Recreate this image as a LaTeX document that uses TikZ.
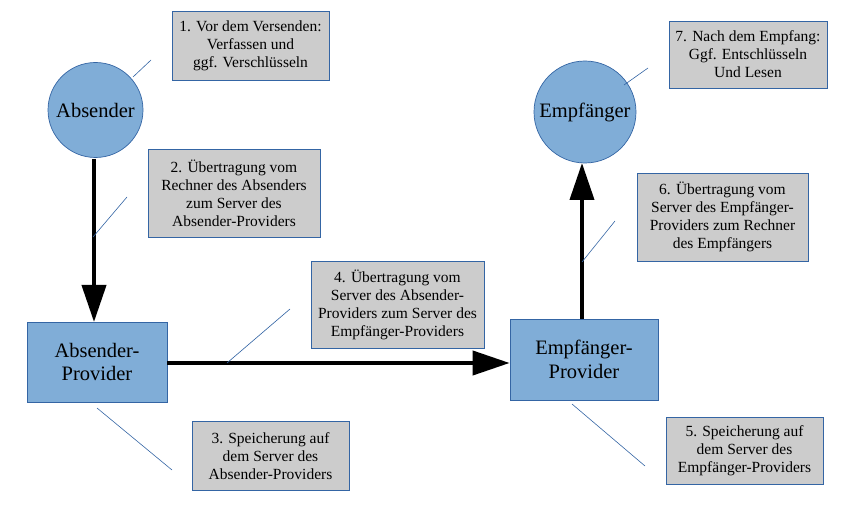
\documentclass[tikz,border=0pt]{standalone}
\usepackage{fontspec}
\setmainfont{Liberation Serif}
\usetikzlibrary{arrows.meta}
\definecolor{nodeblue}{RGB}{128,173,215}
\definecolor{edgeblue}{RGB}{52,101,164}
\definecolor{notegray}{RGB}{204,204,204}
\tikzset{
  party/.style={circle,draw=edgeblue,line width=0.7pt,fill=nodeblue,inner sep=0pt,font=\fontsize{20.5}{23}\selectfont},
  provider/.style={rectangle,draw=edgeblue,line width=0.7pt,fill=nodeblue,inner sep=0pt,align=center,font=\fontsize{20.5}{23.5}\selectfont},
  note/.style={rectangle,draw=edgeblue,line width=0.7pt,fill=notegray,inner sep=0pt,align=center,font=\fontsize{15.5}{18}\selectfont},
  flow/.style={line width=4pt,-{Triangle[length=37pt,width=24pt]}},
  callout/.style={draw=edgeblue,line width=0.6pt}
}
\begin{document}
\begin{tikzpicture}[x=1pt,y=-1pt]
\useasboundingbox (0,0) rectangle (844,505);
% main nodes
\node[party,minimum size=95pt] (abs) at (95.5,110) {Absender};
\node[party,minimum size=102pt] (emp) at (585,112) {Empfänger};
\node[provider,minimum width=140pt,minimum height=80pt] (absprov) at (97,362) {Absender-\\Provider};
\node[provider,minimum width=148pt,minimum height=81pt] (empprov) at (584,359.5) {Empfänger-\\Provider};
% notes
\node[note,minimum width=157pt,minimum height=69pt] (n1) at (250.5,45.5) {1. Vor dem Versenden:\\Verfassen und\\ggf. Verschlüsseln};
\node[note,minimum width=172pt,minimum height=88pt] (n2) at (234,193) {2. Übertragung vom\\Rechner des Absenders\\zum Server des\\Absender-Providers};
\node[note,minimum width=157pt,minimum height=69pt] (n3) at (270.5,456) {3. Speicherung auf\\dem Server des\\Absender-Providers};
\node[note,minimum width=173pt,minimum height=87pt] (n4) at (397.5,304.5) {4. Übertragung vom\\Server des Absender-\\Providers zum Server des\\Empfänger-Providers};
\node[note,minimum width=157pt,minimum height=67pt] (n5) at (744.5,450.5) {5. Speicherung auf\\dem Server des\\Empfänger-Providers};
\node[note,minimum width=171pt,minimum height=88pt] (n6) at (722.5,217) {6. Übertragung vom\\Server des Empfänger-\\Providers zum Rechner\\des Empfängers};
\node[note,minimum width=158pt,minimum height=67pt] (n7) at (748,54.5) {7. Nach dem Empfang:\\Ggf. Entschlüsseln\\Und Lesen};
% flows
\draw[flow] (94,159) -- (94,322);
\draw[flow] (absprov.east |- 0,363) -- (empprov.west |- 0,363);
\draw[flow] (582,319) -- (582,163);
% callout lines
\coordinate (c1a) at (133,77); \coordinate (c1b) at (151,60);
\coordinate (c2a) at (93,237); \coordinate (c2b) at (127,197);
\coordinate (c3a) at (97,408); \coordinate (c3b) at (172,470);
\coordinate (c4a) at (227,363); \coordinate (c4b) at (290,309);
\coordinate (c5a) at (572,404); \coordinate (c5b) at (645,466);
\coordinate (c6a) at (582,262); \coordinate (c6b) at (615,221);
\coordinate (c7a) at (624,85); \coordinate (c7b) at (648,68);
\foreach \k in {1,...,7} {\draw[callout] (c\k a) -- (c\k b);}
\end{tikzpicture}
\end{document}
